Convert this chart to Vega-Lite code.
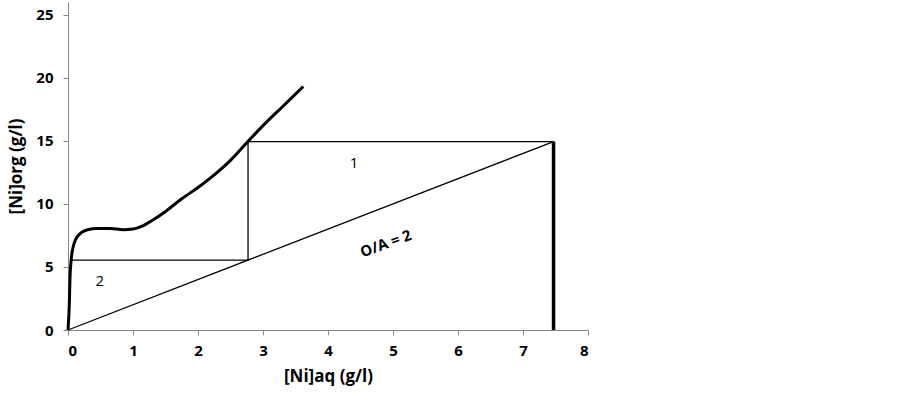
{
  "$schema": "https://vega.github.io/schema/vega-lite/v6.json",
  "autosize": {"type": "none"},
  "width": 520,
  "height": 328,
  "padding": {"left": 68, "top": 2, "right": 314, "bottom": 65},
  "config": {
    "view": {"stroke": null},
    "font": "Open Sans",
    "axis": {
      "grid": false,
      "domainColor": "#868686",
      "tickColor": "#868686",
      "tickSize": 5,
      "labelFont": "Open Sans",
      "labelFontWeight": "bold",
      "labelFontSize": 15,
      "labelColor": "#000000",
      "labelOverlap": false,
      "format": "d",
      "titleFont": "Open Sans",
      "titleFontWeight": "bold",
      "titleFontSize": 17,
      "titleColor": "#000000"
    }
  },
  "datasets": {
    "curve": [
      {"x": 0, "y": 0}, {"x": 0.02, "y": 2}, {"x": 0.03, "y": 4}, {"x": 0.05, "y": 5.6},
      {"x": 0.08, "y": 6.6}, {"x": 0.12, "y": 7.2}, {"x": 0.2, "y": 7.7}, {"x": 0.3, "y": 7.95},
      {"x": 0.45, "y": 8.05}, {"x": 0.65, "y": 8.05}, {"x": 0.85, "y": 7.95}, {"x": 1.0, "y": 8.0},
      {"x": 1.15, "y": 8.25}, {"x": 1.3, "y": 8.7}, {"x": 1.5, "y": 9.4}, {"x": 1.75, "y": 10.4},
      {"x": 2.0, "y": 11.3}, {"x": 2.25, "y": 12.3}, {"x": 2.5, "y": 13.45}, {"x": 2.77, "y": 14.95},
      {"x": 3.0, "y": 16.2}, {"x": 3.3, "y": 17.7}, {"x": 3.62, "y": 19.3}
    ],
    "thin": [
      {"s": "op", "o": 1, "x": 0, "y": 0}, {"s": "op", "o": 2, "x": 7.47, "y": 14.94},
      {"s": "st", "o": 1, "x": 7.47, "y": 14.94}, {"s": "st", "o": 2, "x": 2.77, "y": 14.94},
      {"s": "st", "o": 3, "x": 2.77, "y": 5.54}, {"s": "st", "o": 4, "x": 0.05, "y": 5.54}
    ],
    "feed": [
      {"x": 7.47, "y": 0}, {"x": 7.47, "y": 14.94}
    ],
    "nums": [
      {"x": 4.4, "y": 13.2, "t": "1"},
      {"x": 0.49, "y": 3.85, "t": "2"}
    ],
    "oa": [
      {"x": 4.89, "y": 6.84, "t": "O/A = 2"}
    ]
  },
  "layer": [
    {
      "data": {"name": "thin"},
      "mark": {"type": "line", "color": "#000000", "strokeWidth": 1.3},
      "encoding": {
        "x": {"field": "x", "type": "quantitative", "scale": {"domain": [0, 8]},
              "axis": {"title": "[Ni]aq (g/l)", "values": [0,1,2,3,4,5,6,7,8], "format": "d", "labelPadding": 8, "titlePadding": 10}},
        "y": {"field": "y", "type": "quantitative", "scale": {"domain": [0, 25]},
              "axis": {"title": "[Ni]org (g/l)", "values": [0,5,10,15,20,25], "format": "d", "labelPadding": 10, "titlePadding": 10}},
        "detail": {"field": "s"},
        "order": {"field": "o"}
      }
    },
    {
      "data": {"name": "curve"},
      "mark": {"type": "line", "color": "#000000", "strokeWidth": 3, "interpolate": "monotone"},
      "encoding": {
        "x": {"field": "x", "type": "quantitative"},
        "y": {"field": "y", "type": "quantitative"}
      }
    },
    {
      "data": {"name": "feed"},
      "mark": {"type": "line", "color": "#000000", "strokeWidth": 3.5},
      "encoding": {
        "x": {"field": "x", "type": "quantitative"},
        "y": {"field": "y", "type": "quantitative"}
      }
    },
    {
      "data": {"name": "nums"},
      "mark": {"type": "text", "font": "Open Sans", "fontSize": 15, "color": "#000000"},
      "encoding": {
        "x": {"field": "x", "type": "quantitative"},
        "y": {"field": "y", "type": "quantitative"},
        "text": {"field": "t"}
      }
    },
    {
      "data": {"name": "oa"},
      "mark": {"type": "text", "font": "Open Sans", "fontSize": 15, "fontWeight": "bold", "angle": 340, "color": "#000000"},
      "encoding": {
        "x": {"field": "x", "type": "quantitative"},
        "y": {"field": "y", "type": "quantitative"},
        "text": {"field": "t"}
      }
    }
  ]
}
